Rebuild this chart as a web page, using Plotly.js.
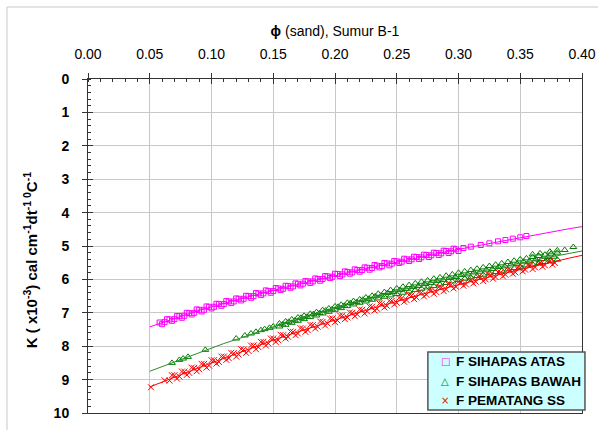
<!DOCTYPE html>
<html>
<head>
<meta charset="utf-8">
<script src="https://cdn.plot.ly/plotly-3.0.1.min.js"></script>
<style>html,body{margin:0;padding:0;background:#fff;}#chart{width:598px;height:430px;}</style>
</head>
<body>
<div id="chart"></div>
<script>
// ---- Series names ----
const seriesNames = ['F SIHAPAS ATAS', 'F SIHAPAS BAWAH', 'F PEMATANG SS'];
const seriesColors = ['#ff00ff', '#008000', '#ff0000'];
const legendGlyphs = ['□', '△', '×'];

// ---- F SIHAPAS ATAS (magenta squares) ----
const atasPhi = [0.058,0.062,0.066,0.070,0.074,0.078,0.082,0.086,0.090,0.094,0.098,0.102,0.106,0.110,0.114,0.118,0.122,0.126,0.130,0.134,0.138,0.142,0.146,0.150,0.154,0.158,0.162,0.166,0.170,0.174,0.178,0.182,0.186,0.190,0.194,0.198,0.202,0.206,0.210,0.214,0.218,0.222,0.226,0.230,0.234,0.238,0.242,0.246,0.250,0.254,0.258,0.262,0.266,0.270,0.274,0.278,0.282,0.286,0.290,0.294,0.298,0.304,0.310,0.318,0.325,0.332,0.338,0.344,0.350,0.355];
const atasK = [7.29,7.28,7.20,7.19,7.10,7.09,7.01,7.00,6.91,6.91,6.82,6.82,6.74,6.74,6.66,6.66,6.58,6.58,6.50,6.50,6.42,6.42,6.35,6.35,6.27,6.28,6.20,6.21,6.13,6.13,6.06,6.06,5.99,5.99,5.91,5.92,5.84,5.85,5.78,5.79,5.72,5.72,5.65,5.66,5.59,5.60,5.52,5.53,5.46,5.47,5.40,5.40,5.33,5.34,5.27,5.28,5.21,5.22,5.15,5.16,5.10,5.06,5.02,4.97,4.92,4.86,4.82,4.78,4.74,4.70];
const atasPhi2 = [0.060,0.064,0.068,0.072,0.076,0.080,0.084,0.088,0.092,0.096,0.100,0.104,0.108,0.112,0.116,0.120,0.124,0.128,0.132,0.136,0.140,0.144,0.148,0.152,0.156,0.160,0.164,0.168,0.172,0.176,0.180,0.184,0.188,0.192,0.196,0.200,0.204,0.208,0.212,0.216,0.220,0.224,0.228,0.232,0.236,0.240,0.244,0.248,0.252,0.256,0.260,0.264,0.268,0.272,0.276,0.280,0.284,0.288,0.292,0.296,0.300];
const atasK2 = [7.34,7.19,7.24,7.10,7.15,7.00,7.05,6.90,6.96,6.81,6.87,6.73,6.79,6.65,6.71,6.57,6.63,6.49,6.55,6.41,6.47,6.33,6.40,6.26,6.32,6.19,6.25,6.12,6.18,6.05,6.11,5.97,6.04,5.90,5.96,5.83,5.90,5.76,5.83,5.70,5.77,5.64,5.71,5.57,5.64,5.51,5.58,5.45,5.51,5.38,5.45,5.32,5.39,5.26,5.33,5.20,5.27,5.14,5.21,5.08,5.15];

// ---- F SIHAPAS BAWAH (green triangles) ----
const bawahPhi = [0.068,0.074,0.077,0.081,0.095,0.120,0.127,0.132,0.136,0.140,0.143,0.147,0.150,
  0.155,0.155,0.160,0.160,0.165,0.165,0.170,0.170,0.175,0.175,0.180,0.180,0.185,0.185,0.190,0.190,0.195,0.195,0.200,0.200,
  0.205,0.205,0.210,0.210,0.215,0.215,0.220,0.220,0.225,0.225,0.230,0.230,0.235,0.235,0.240,0.240,0.245,0.245,0.250,0.250,
  0.255,0.255,0.260,0.260,0.265,0.265,0.270,0.270,0.275,0.275,0.280,0.280,0.285,0.285,0.290,0.290,0.295,0.295,0.300,0.300,
  0.305,0.305,0.310,0.310,0.315,0.315,0.320,0.320,0.325,0.325,0.330,0.330,0.335,0.335,0.340,0.340,0.345,0.345,0.350,0.350,
  0.355,0.355,0.360,0.360,0.365,0.365,0.370,0.370,0.375,0.375,0.380,0.380,
  0.360,0.366,0.374,0.380,0.386,0.393];
const bawahK = [8.50,8.41,8.37,8.32,8.11,7.77,7.68,7.62,7.57,7.52,7.49,7.45,7.41,
  7.32,7.41,7.26,7.36,7.20,7.30,7.14,7.24,7.09,7.19,7.03,7.13,6.98,7.08,6.92,7.02,6.87,6.97,6.81,6.91,
  6.76,6.86,6.70,6.80,6.65,6.75,6.60,6.70,6.54,6.66,6.49,6.61,6.43,6.57,6.38,6.52,6.32,6.48,6.27,6.44,
  6.22,6.40,6.17,6.36,6.12,6.32,6.07,6.28,6.03,6.24,5.98,6.20,5.94,6.15,5.89,6.11,5.85,6.06,5.80,6.02,
  5.76,5.98,5.72,5.94,5.68,5.90,5.64,5.86,5.60,5.82,5.56,5.78,5.52,5.74,5.48,5.70,5.44,5.66,5.40,5.62,
  5.37,5.58,5.33,5.55,5.30,5.51,5.26,5.48,5.23,5.44,5.20,5.41,
  5.25,5.22,5.17,5.13,5.12,5.03];
const bawahPhi2 = [0.1575,0.1625,0.1675,0.1725,0.1775,0.1825,0.1875,0.1925,0.1975,0.2025,0.2075,0.2125,0.2175,0.2225,0.2275,0.2325,0.2375,0.2425,0.2475,0.2525,0.2575,0.2625,0.2675,0.2725,0.2775,0.2825,0.2875,0.2925,0.2975,0.3025,0.3075,0.3125,0.3175,0.3225,0.3275,0.3325,0.3375,0.3425,0.3475,0.3525,0.3575,0.3625,0.3675,0.3725,0.3775];
const bawahK2 = [7.35,7.27,7.23,7.15,7.12,7.04,7.01,6.93,6.90,6.82,6.79,6.71,6.68,6.61,6.58,6.51,6.48,6.41,6.38,6.32,6.29,6.23,6.20,6.14,6.11,6.05,6.02,5.96,5.93,5.87,5.85,5.79,5.77,5.71,5.69,5.63,5.61,5.55,5.53,5.47,5.46,5.40,5.39,5.33,5.32];

// ---- F PEMATANG SS (red crosses) ----
const pematangPhi = [0.051,0.062,0.066,0.070,0.074,0.078,0.082,0.086,0.090,0.094,0.098,0.102,0.106,0.110,0.114,0.118,0.122,0.126,0.130,0.134,0.138,0.142,0.146,0.150,0.154,0.158,0.162,0.166,0.170,0.174,0.178,0.182,0.186,0.190,0.194,0.198,0.202,0.206,0.210,0.214,0.218,0.222,0.226,0.230,0.234,0.238,0.242,0.246,0.250,0.254,0.258,0.262,0.266,0.270,0.274,0.278,0.282,0.286,0.290,0.294,0.298,0.302,0.306,0.310,0.314,0.318,0.322,0.326,0.330,0.334,0.338,0.342,0.346,0.350,0.354,0.358,0.362,0.366,0.370,0.374,0.378];
const pematangK = [9.23,9.02,9.03,8.87,8.91,8.76,8.80,8.65,8.69,8.53,8.58,8.42,8.47,8.31,8.36,8.21,8.25,8.10,8.14,7.98,8.03,7.87,7.92,7.77,7.82,7.67,7.72,7.57,7.62,7.47,7.52,7.37,7.42,7.27,7.32,7.17,7.23,7.08,7.14,7.00,7.05,6.91,6.96,6.82,6.88,6.73,6.79,6.64,6.70,6.56,6.62,6.48,6.54,6.40,6.46,6.32,6.38,6.24,6.30,6.16,6.22,6.08,6.15,6.01,6.07,5.94,6.00,5.87,5.93,5.79,5.86,5.72,5.79,5.65,5.71,5.58,5.64,5.51,5.58,5.45,5.51];
const pematangPhi2 = [0.068,0.072,0.076,0.080,0.084,0.088,0.092,0.096,0.100,0.104,0.108,0.112,0.116,0.120,0.124,0.128,0.132,0.136,0.140,0.144,0.148,0.152,0.156,0.160,0.164,0.168,0.172,0.176,0.180,0.184,0.188,0.192,0.196,0.200,0.204,0.208,0.212,0.216,0.220,0.224,0.228,0.232,0.236,0.240,0.244,0.248,0.252,0.256,0.260,0.264,0.268,0.272,0.276,0.280,0.284,0.288,0.292,0.296,0.300,0.304,0.308,0.312,0.316,0.320,0.324,0.328,0.332,0.336,0.340,0.344,0.348,0.352,0.356,0.360,0.364,0.368,0.372,0.376];
const pematangK2 = [8.87,8.97,8.76,8.86,8.64,8.75,8.53,8.64,8.42,8.52,8.31,8.41,8.20,8.31,8.09,8.20,7.98,8.09,7.87,7.98,7.77,7.87,7.66,7.77,7.56,7.67,7.46,7.57,7.36,7.47,7.26,7.38,7.17,7.28,7.08,7.19,6.99,7.10,6.90,7.02,6.81,6.93,6.72,6.84,6.64,6.75,6.55,6.67,6.47,6.59,6.39,6.51,6.31,6.43,6.23,6.35,6.15,6.27,6.07,6.19,6.00,6.12,5.93,6.05,5.85,5.98,5.78,5.91,5.71,5.83,5.64,5.76,5.57,5.69,5.50,5.62,5.43,5.56];

// ---- Trend lines ----
const trendPhi = [0.05,0.06,0.07,0.08,0.09,0.10,0.11,0.12,0.13,0.14,0.15,0.16,0.17,0.18,0.19,0.20,0.21,0.22,0.23,0.24,0.25,0.26,0.27,0.28,0.29,0.30,0.31,0.32,0.33,0.34,0.35,0.36,0.37,0.38,0.39,0.40];
const atasTrend = [7.42,7.29,7.17,7.05,6.93,6.82,6.72,6.62,6.52,6.42,6.33,6.24,6.15,6.06,5.97,5.88,5.80,5.72,5.64,5.56,5.48,5.40,5.32,5.25,5.17,5.10,5.03,4.96,4.88,4.81,4.74,4.68,4.61,4.54,4.48,4.42];
const bawahTrend = [8.75,8.61,8.47,8.33,8.19,8.05,7.92,7.80,7.67,7.54,7.42,7.31,7.19,7.08,6.97,6.86,6.75,6.65,6.55,6.45,6.35,6.26,6.17,6.08,5.99,5.90,5.82,5.74,5.66,5.58,5.50,5.43,5.36,5.29,5.22,5.15];
const pematangTrend = [9.22,9.07,8.92,8.78,8.64,8.50,8.36,8.23,8.09,7.95,7.82,7.69,7.57,7.44,7.32,7.20,7.09,6.98,6.87,6.76,6.65,6.55,6.45,6.35,6.25,6.15,6.06,5.97,5.88,5.79,5.70,5.61,5.53,5.44,5.36,5.28];

// ---- Axis ticks / titles ----
const xTickVals = [0,0.05,0.10,0.15,0.20,0.25,0.30,0.35,0.40];
const xTickText = ['0.00','0.05','0.10','0.15','0.20','0.25','0.30','0.35','0.40'];
const yTickVals = [0,1,2,3,4,5,6,7,8,9,10];
const xTitle = '<b>ϕ</b> (sand), Sumur B-1';
const yTitle = '<b>K ( x10<sup>-3</sup>) cal cm<sup>-1</sup>dt<sup>-1 0</sup>C<sup>-1</sup></b>';

const FONT = 'Liberation Sans, Arial, sans-serif';

const traces = [
  {x: atasPhi.concat(atasPhi2), y: atasK.concat(atasK2), name: seriesNames[0], type: 'scatter', mode: 'markers',
   marker: {symbol: 'square-open', size: 5, color: seriesColors[0], line: {width: 1, color: seriesColors[0]}}},
  {x: bawahPhi.concat(bawahPhi2), y: bawahK.concat(bawahK2), name: seriesNames[1], type: 'scatter', mode: 'markers',
   marker: {symbol: 'triangle-up-open', size: 6, color: seriesColors[1], line: {width: 1, color: seriesColors[1]}}},
  {x: pematangPhi.concat(pematangPhi2), y: pematangK.concat(pematangK2), name: seriesNames[2], type: 'scatter', mode: 'markers',
   marker: {symbol: 'x-thin-open', size: 6, color: seriesColors[2], line: {width: 1, color: seriesColors[2]}}},
  {x: trendPhi, y: atasTrend, type: 'scatter', mode: 'lines', showlegend: false, hoverinfo: 'skip',
   line: {color: '#ff00ff', width: 1}},
  {x: trendPhi, y: bawahTrend, type: 'scatter', mode: 'lines', showlegend: false, hoverinfo: 'skip',
   line: {color: '#2e8b2e', width: 1}},
  {x: trendPhi, y: pematangTrend, type: 'scatter', mode: 'lines', showlegend: false, hoverinfo: 'skip',
   line: {color: '#ff0000', width: 1}},
  {x: [null], y: [null], xaxis: 'x2', yaxis: 'y2', type: 'scatter', mode: 'markers', showlegend: false, hoverinfo: 'skip'}
];

// legend box (paper coords derived from pixel layout of plot area 88..582 x 79..413)
const legX0 = 0.688, legX1 = 1.006, legY0 = 0.009, legY1 = 0.1826;
const legRowsY = [0.1527, 0.0958, 0.0389];

const annotations = [
  {text: yTitle, xref: 'paper', yref: 'paper', x: -0.117, y: 0.458, xanchor: 'center', yanchor: 'middle',
   textangle: -90, showarrow: false, font: {family: FONT, size: 15, color: '#000'}}
];
seriesNames.forEach((nm, i) => {
  annotations.push({text: legendGlyphs[i], xref: 'paper', yref: 'paper', x: 0.723, y: legRowsY[i],
    xanchor: 'center', yanchor: 'middle', showarrow: false,
    font: {family: 'DejaVu Sans, sans-serif', size: 10, color: seriesColors[i]}});
  annotations.push({text: '<b>' + nm + '</b>', xref: 'paper', yref: 'paper', x: 0.74, y: legRowsY[i],
    xanchor: 'left', yanchor: 'middle', showarrow: false,
    font: {family: FONT, size: 13.5, color: '#000'}});
});

const layout = {
  width: 598, height: 430,
  margin: {l: 88, r: 16, t: 79, b: 17},
  paper_bgcolor: '#ffffff', plot_bgcolor: '#ffffff',
  font: {family: FONT, size: 13, color: '#000'},
  showlegend: false,
  xaxis: {
    side: 'top', range: [0, 0.4], autorange: false,
    tickvals: xTickVals, ticktext: xTickText,
    ticks: 'outside', ticklen: 5, tickcolor: '#333', tickwidth: 1,
    ticklabelstandoff: 8,
    tickfont: {family: FONT, size: 14, color: '#000'},
    showgrid: true, gridcolor: '#c8c8c8', gridwidth: 1,
    showline: true, linecolor: '#333', linewidth: 1, mirror: true,
    zeroline: false,
    minor: {dtick: 0.01, ticks: 'inside', ticklen: 3, tickcolor: '#333', showgrid: false},
    title: {text: xTitle, font: {family: FONT, size: 14, color: '#000'}, standoff: 6}
  },
  yaxis: {
    range: [10, 0], autorange: false,
    tickvals: yTickVals,
    ticks: 'outside', ticklen: 5, tickcolor: '#333', tickwidth: 1,
    ticklabelstandoff: 10,
    tickfont: {family: FONT, size: 14, color: '#000', weight: 'bold'},
    showgrid: true, gridcolor: '#c8c8c8', gridwidth: 1,
    showline: true, linecolor: '#333', linewidth: 1, mirror: true,
    zeroline: false,
    minor: {dtick: 0.2, ticks: 'inside', ticklen: 3, tickcolor: '#333', showgrid: false}
  },
  xaxis2: {
    overlaying: 'x', anchor: 'y', side: 'top', range: [0, 0.4], autorange: false,
    tickvals: xTickVals, showticklabels: false,
    ticks: 'inside', ticklen: 5, tickcolor: '#333', tickwidth: 1,
    showgrid: false, showline: false, zeroline: false
  },
  yaxis2: {
    overlaying: 'y', anchor: 'x', side: 'left', range: [10, 0], autorange: false,
    tickvals: yTickVals, showticklabels: false,
    ticks: 'inside', ticklen: 5, tickcolor: '#333', tickwidth: 1,
    showgrid: false, showline: false, zeroline: false
  },
  annotations: annotations,
  shapes: [
    {type: 'line', xref: 'paper', yref: 'paper', x0: -0.164, x1: -0.164, y0: -0.06, y1: 1.2156,
     line: {color: '#c8c8c8', width: 1}},
    {type: 'line', xref: 'paper', yref: 'paper', x0: -0.164, x1: 1.04, y0: 1.2156, y1: 1.2156,
     line: {color: '#c8c8c8', width: 1}},
    {type: 'rect', xref: 'paper', yref: 'paper', x0: legX0, x1: legX1, y0: legY0, y1: legY1,
     fillcolor: '#ccffff', line: {color: '#555', width: 1.5}, layer: 'above'}
  ]
};

Plotly.newPlot('chart', traces, layout, {displayModeBar: false, staticPlot: true});
</script>
</body>
</html>
